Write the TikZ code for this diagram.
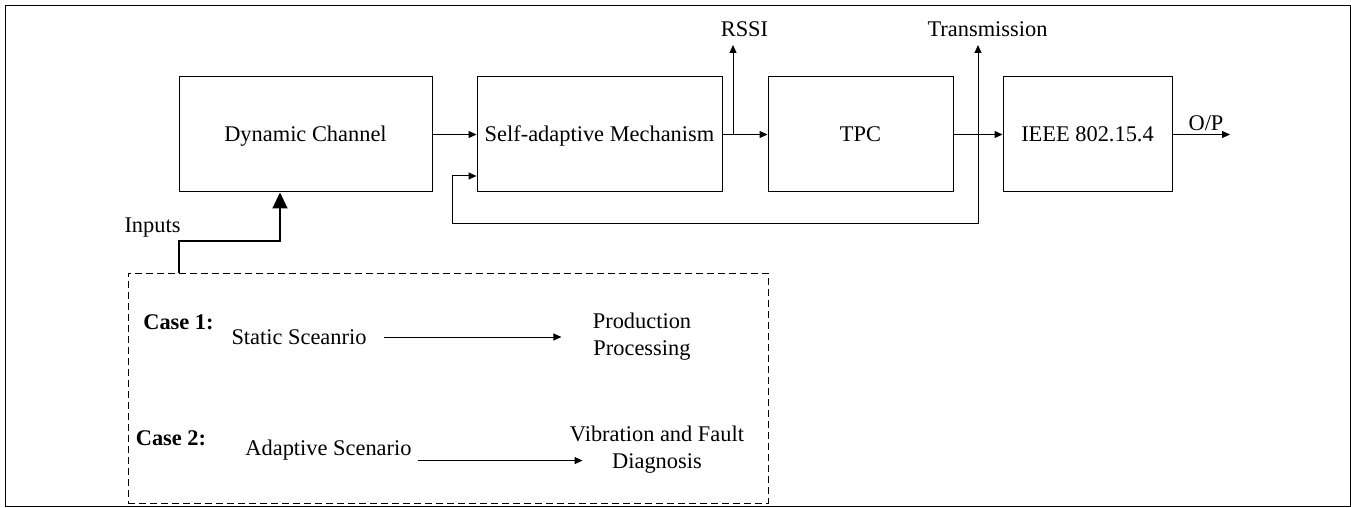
\documentclass[tikz,border=0pt]{standalone}
\usepackage{fontspec}
\setmainfont{Liberation Serif}
\usetikzlibrary{arrows.meta}
\usetikzlibrary{calc}

\begin{document}
\begin{tikzpicture}[
            x=0.5pt, y=-0.5pt,
            font=\fontsize{11.2}{13.4}\selectfont,
            block-node/.style={rectangle,draw,line width=0.5pt,minimum height=57.5pt,inner sep=0pt,text height=7.4pt,text depth=0pt},
            text-node/.style={inner sep=0pt,align=center},
            case-box/.style={rectangle,draw,line width=0.5pt,dash pattern=on 3.5pt off 2pt,minimum width=320pt,minimum height=115pt},
            flow/.style={line width=0.5pt,-{Triangle[length=4pt,width=3.5pt]}},
            input-flow/.style={line width=1pt,-{Triangle[length=8pt,width=7.5pt]}},
        ]
            \useasboundingbox (0,0) rectangle (1351,508);
            \draw[line width=0.5pt] (5,6) rectangle (1350,506);

            \node[block-node,minimum width=126.5pt] (dyn) at (305.5,134.5) {Dynamic Channel};
            \node[block-node,minimum width=122.5pt] (self) at (599.5,134.5) {Self-adaptive Mechanism};
            \node[block-node,minimum width=92.5pt] (tpc) at (860.5,134.5) {TPC};
            \node[block-node,minimum width=84.5pt] (ieee) at (1087.5,134.5) {IEEE 802.15.4};

            \node[text-node] (rssi) at (744.5,29) {RSSI};
            \node[text-node] (trans) at (987.5,29) {Transmission};
            \node[text-node,anchor=base] (op) at (1206,131) {O/P};
            \node[text-node] (inputs) at (152.5,228) {Inputs};

            \coordinate (rssi-tip) at (733,45);
            \coordinate (trans-tip) at (978,45);
            \coordinate (trans-foot) at (978,224);
            \coordinate (back-foot) at (452,224);
            \coordinate (op-tip) at (1230,134.5);
            \coordinate (in-bend) at (179,241);
            \coordinate (in-turn) at (280,241);

            \draw[flow] (dyn) -- (self);
            \draw[flow] (self) -- (tpc);
            \draw[flow] (tpc) -- (ieee);
            \draw[flow] (ieee.east) -- (op-tip);
            \draw[flow] (self.east -| rssi-tip) -- (rssi-tip);
            \draw[flow] (trans-foot) -- (trans-tip);
            \draw[flow] (trans-foot) -- (back-foot) |- (self.west |- 0,176);

            \node[case-box] (cases) at (448,388) {};
            \draw[input-flow] (cases.north -| in-bend) -- (in-bend) -- (in-turn) -- (in-turn |- dyn.south);

            \node[text-node] (case1) at (178.5,322) {\textbf{Case 1:}};
            \node[text-node] (static) at (299,337) {Static Sceanrio};
            \node[text-node] (prod) at (642,337) {Production\\Processing};
            \node[text-node] (case2) at (171,438) {\textbf{Case 2:}};
            \node[text-node] (adapt) at (328.5,450) {Adaptive Scenario};
            \node[text-node] (vib) at (657,449.5) {Vibration and Fault\\Diagnosis};

            \draw[flow] ([xshift=8.5pt]static.east) -- ([xshift=-15.5pt]prod.west);
            \draw[flow] ([xshift=3pt]adapt.south east) -- ($(vib.west |- adapt.south east)+(13,0)$);
        \end{tikzpicture}
\end{document}
